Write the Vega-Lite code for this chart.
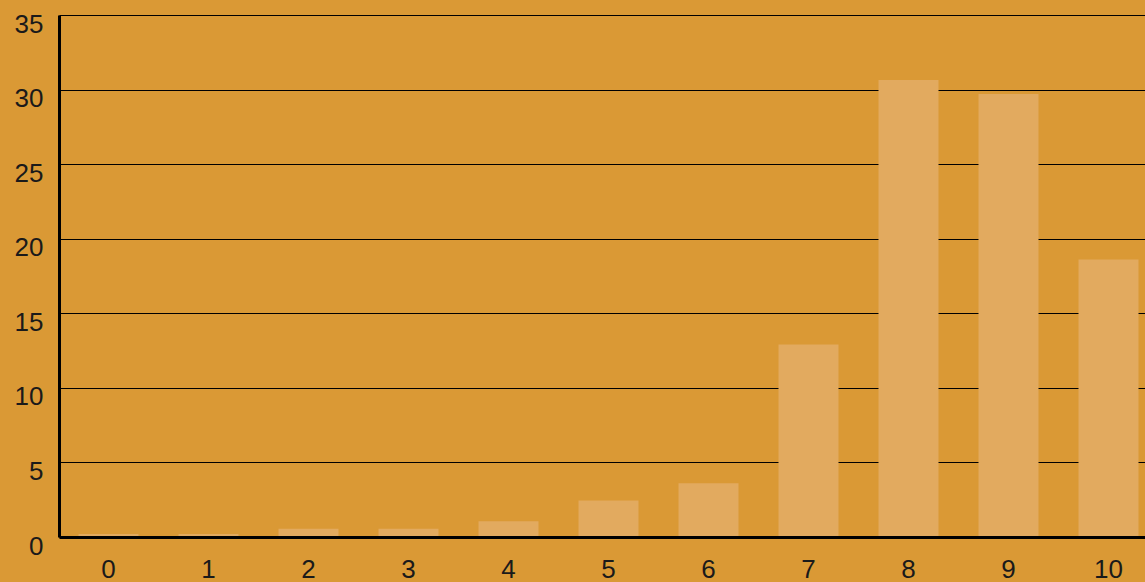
{
  "$schema": "https://vega.github.io/schema/vega-lite/v6.json",
  "autosize": {"type": "none"},
  "width": 1086,
  "height": 522,
  "padding": {"left": 59, "top": 15, "right": 0, "bottom": 45},
  "background": "#DA9935",
  "config": {
    "view": {"stroke": null},
    "axis": {"labelFont": "Liberation Sans", "labelFontSize": 26, "labelColor": "#1a1a1a"}
  },
  "data": {
    "values": [
      {"score": "0", "value": 0.2},
      {"score": "1", "value": 0.2},
      {"score": "2", "value": 0.55},
      {"score": "3", "value": 0.55},
      {"score": "4", "value": 1.05},
      {"score": "5", "value": 2.45},
      {"score": "6", "value": 3.6},
      {"score": "7", "value": 12.9},
      {"score": "8", "value": 30.65},
      {"score": "9", "value": 29.7},
      {"score": "10", "value": 18.6}
    ]
  },
  "mark": {"type": "bar", "color": "#E2AA5F"},
  "encoding": {
    "x": {
      "field": "score",
      "type": "ordinal",
      "sort": null,
      "scale": {"paddingInner": 0.4, "paddingOuter": 0.13, "align": 0.75},
      "axis": {
        "title": null,
        "labelAngle": 0,
        "ticks": false,
        "labelPadding": 19,
        "domainColor": "#000000",
        "domainWidth": 3,
        "zindex": 1
      }
    },
    "y": {
      "field": "value",
      "type": "quantitative",
      "scale": {"domain": [0, 35], "nice": false},
      "axis": {
        "title": null,
        "values": [0, 5, 10, 15, 20, 25, 30, 35],
        "ticks": false,
        "labelPadding": 16,
        "labelOffset": 9,
        "domainColor": "#000000",
        "domainWidth": 3,
        "grid": true,
        "gridColor": "#000000",
        "gridWidth": 1,
        "zindex": 0
      }
    }
  }
}
